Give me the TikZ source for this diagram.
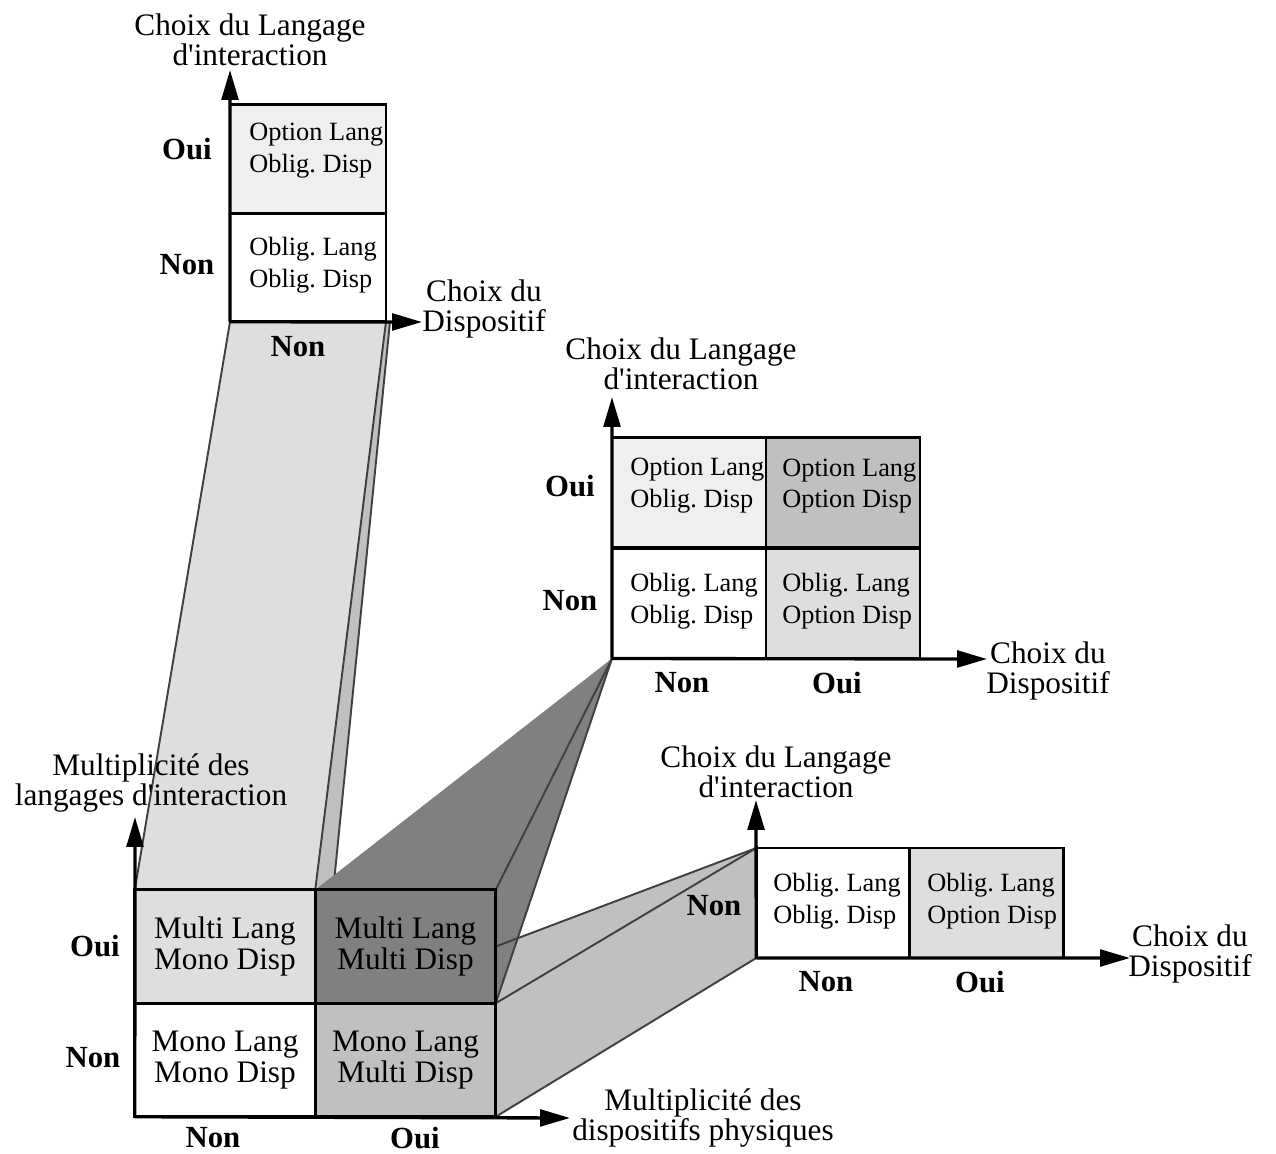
\documentclass[tikz,border=0pt]{standalone}
\usepackage{fontspec}
\setmainfont{Liberation Serif}
\usetikzlibrary{arrows.meta,backgrounds,calc}
\definecolor{shadepale}{HTML}{EFEFEF}
\definecolor{shadelight}{HTML}{DEDEDE}
\definecolor{shademid}{HTML}{C0C0C0}
\definecolor{shadedark}{HTML}{808080}
\definecolor{edgegray}{HTML}{404040}
\frenchspacing

\begin{document}
\begin{tikzpicture}[x=0.02cm, y=-0.02cm,
      cellbox/.style={draw=black, line width=1.6pt, inner sep=0pt, outer sep=0pt},
      bigcell/.style={cellbox, minimum width=3.61cm, minimum height=2.27cm, align=center, font=\fontsize{17.8}{18.1}\selectfont},
      smallcell/.style={cellbox, minimum width=3.08cm, minimum height=2.2cm},
      celltext/.style={anchor=west, align=left, inner sep=0pt, font=\fontsize{15}{18.1}\selectfont},
      answer/.style={inner sep=0pt, font=\fontsize{17.5}{18}\selectfont\bfseries},
      axislabel/.style={inner sep=0pt, align=center, font=\fontsize{17.8}{17.4}\selectfont},
      axisarrow/.style={line width=1.9pt, -{Triangle[length=17pt, width=9.5pt]}},
      faceedge/.style={draw=edgegray, line width=1.1pt}]

      \useasboundingbox (0,0) rectangle (1276,1154);

      % --- Main grid (multiplicity) ---
      \node[bigcell, fill=shadelight] (mMM) at (225,946.5) {Multi Lang\\Mono Disp};
      \node[bigcell, fill=shadedark] (mMX) at (405.5,946.5) {Multi Lang\\Multi Disp};
      \node[bigcell, fill=white] (mNN) at (225,1060) {Mono Lang\\Mono Disp};
      \node[bigcell, fill=shademid] (mNX) at (405.5,1060) {Mono Lang\\Multi Disp};

      \coordinate (mYend) at (135,817);
      \coordinate (mXend) at (570,1118);
      \draw[axisarrow] (mNN.south west) -- (mYend);
      \draw[axisarrow] (mNN.south west) -- (mXend);

      \node[answer] (mOuiY) at (95,946) {Oui};
      \node[answer] (mNonY) at (93,1058) {Non};
      \node[answer] (mNonX) at (213,1138) {Non};
      \node[answer] (mOuiX) at (415,1138) {Oui};
      \node[axislabel] (mYlab) at (151,783) {Multiplicité des\\langages d\textquotesingle interaction};
      \node[axislabel] (mXlab) at (703,1118) {Multiplicité des\\dispositifs physiques};

      % --- Top grid (mono dispositif) ---
      \node[smallcell, minimum width=3.12cm, minimum height=2.17cm, fill=shadepale] (tO) at (308,159) {};
      \node[smallcell, minimum width=3.12cm, minimum height=2.17cm, fill=white] (tN) at (308,267.5) {};
      \node[celltext] (tOtext) at (249,151) {Option Lang\\Oblig. Disp};
      \node[celltext] (tNtext) at (249,265.5) {Oblig. Lang\\Oblig. Disp};

      \coordinate (tYend) at (230,70);
      \coordinate (tXend) at (422,322);
      \draw[axisarrow] (tN.south west) -- (tYend);
      \draw[axisarrow] (tN.south west) -- (tXend);

      \node[answer] (tOuiY) at (187,149) {Oui};
      \node[answer] (tNonY) at (187,265) {Non};
      \node[answer] (tNonX) at (298,347) {Non};
      \node[axislabel] (tYlab) at (250,40) {Choix du Langage\\d\textquotesingle interaction};
      \node[axislabel] (tXlab) at (484,309) {Choix du\\Dispositif};

      % --- Middle grid (multi lang, multi disp) ---
      \node[smallcell, fill=shadepale] (cOO) at (689,492.5) {};
      \node[smallcell, fill=shademid] (cOX) at (843,492.5) {};
      \node[smallcell, fill=white] (cNN) at (689,603.5) {};
      \node[smallcell, fill=shadelight] (cNX) at (843,603.5) {};
      \node[celltext] (cOOtext) at (630,486) {Option Lang\\Oblig. Disp};
      \node[celltext] (cOXtext) at (782,486) {Option Lang\\Option Disp};
      \node[celltext] (cNNtext) at (630,601) {Oblig. Lang\\Oblig. Disp};
      \node[celltext] (cNXtext) at (782,601) {Oblig. Lang\\Option Disp};

      \coordinate (cYend) at (612,397);
      \coordinate (cXend) at (987,659);
      \draw[axisarrow] (cNN.south west) -- (cYend);
      \draw[axisarrow] (cNN.south west) -- (cXend);

      \node[answer] (cOuiY) at (570,486) {Oui};
      \node[answer] (cNonY) at (570,601) {Non};
      \node[answer] (cNonX) at (682,683) {Non};
      \node[answer] (cOuiX) at (837,683) {Oui};
      \node[axislabel] (cYlab) at (681,364) {Choix du Langage\\d\textquotesingle interaction};
      \node[axislabel] (cXlab) at (1048,671) {Choix du\\Dispositif};

      % --- Bottom right grid (mono lang) ---
      \node[smallcell, minimum width=3.07cm, fill=white] (bN) at (833,903) {};
      \node[smallcell, minimum width=3.07cm, fill=shadelight] (bX) at (986.5,903) {};
      \node[celltext] (bNtext) at (773,901) {Oblig. Lang\\Oblig. Disp};
      \node[celltext] (bXtext) at (927,901) {Oblig. Lang\\Option Disp};

      \coordinate (bYend) at (756,800);
      \coordinate (bXend) at (1130,958);
      \draw[axisarrow] (bN.south west) -- (bYend);
      \draw[axisarrow] (bN.south west) -- (bXend);

      \node[answer] (bNonY) at (714,906) {Non};
      \node[answer] (bNonX) at (826,982) {Non};
      \node[answer] (bOuiX) at (980,982) {Oui};
      \node[axislabel] (bYlab) at (776,772) {Choix du Langage\\d\textquotesingle interaction};
      \node[axislabel] (bXlab) at (1190,954) {Choix du\\Dispositif};

      % --- Projections between the grids ---
      \begin{scope}[on background layer]
        \fill[shadelight] (mMM.north west) -- (mMM.north east) -- (tN.south east) -- (tN.south west) -- cycle;
        \fill[shademid] (mMM.north east) -- (tN.south east) -- ($(tN.south east)+(4,0)$) -- ($(mMM.north east)+(18,0)$) -- cycle;
        \draw[faceedge] (mMM.north west) -- (tN.south west);
        \draw[faceedge] (mMM.north east) -- (tN.south east);
        \draw[faceedge] ($(mMM.north east)+(18,0)$) -- ($(tN.south east)+(4,0)$);

        \fill[shademid] (mMX.east) -- (bN.north west) -- (bN.south west) -- (mNX.south east) -- cycle;

        \fill[shadedark] (mMX.north west) -- (cNN.south west) -- (mMX.south east) -- (mMX.north east) -- cycle;
        \draw[faceedge] (mMX.north east) -- (cNN.south west);
        \draw[faceedge] (mMX.south east) -- (cNN.south west);

        \draw[faceedge] (mMX.east) -- (bN.north west);
        \draw[faceedge] (mMX.south east) -- (bN.north west);
        \draw[faceedge] (mNX.south east) -- (bN.south west);
      \end{scope}

    \end{tikzpicture}
\end{document}
